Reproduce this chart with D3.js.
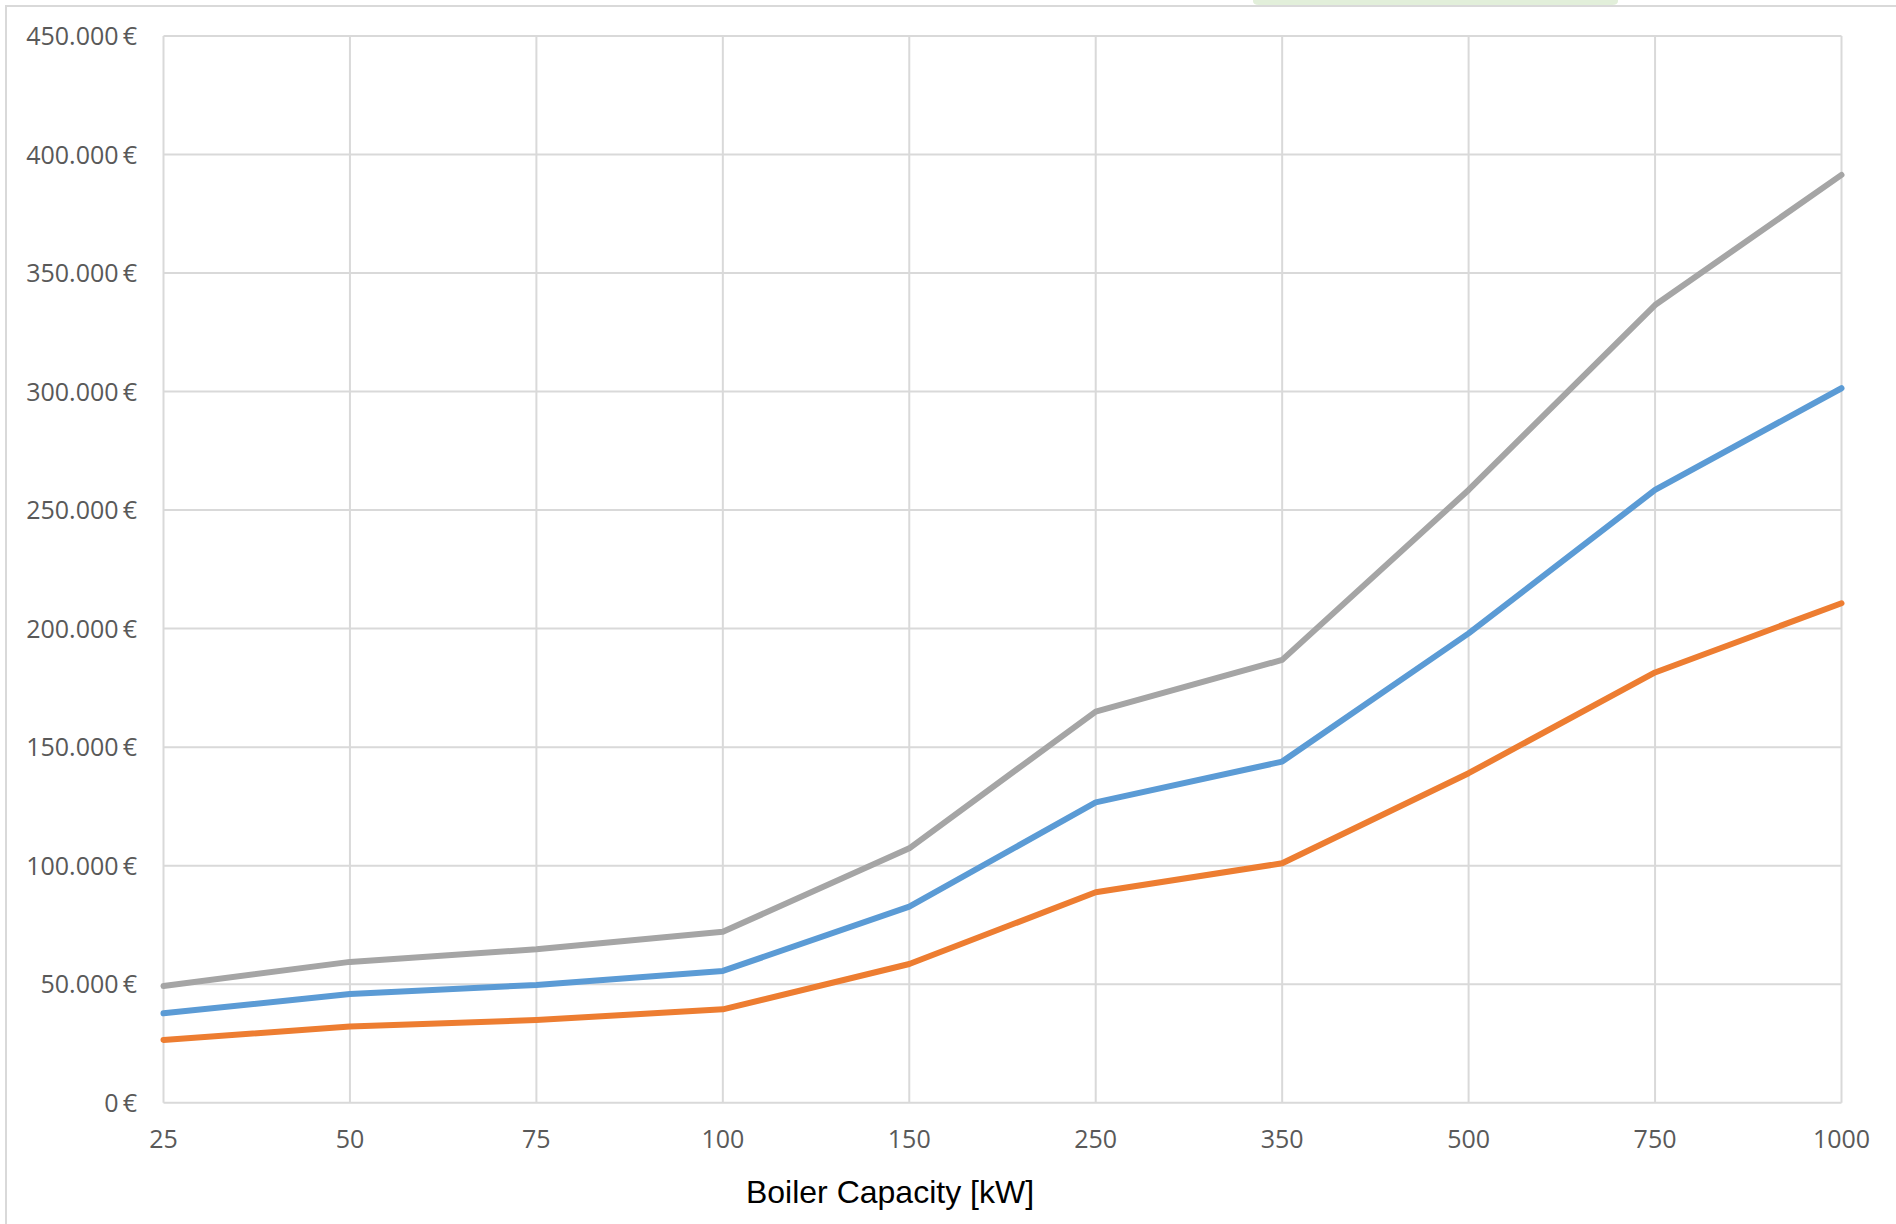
<!DOCTYPE html>
<html>
<head>
<meta charset="utf-8">
<script src="https://cdn.jsdelivr.net/npm/d3@7/dist/d3.min.js"></script>
<style>
  html, body { margin: 0; padding: 0; background: #ffffff; }
  svg { display: block; }
</style>
</head>
<body>
<svg id="chart" width="1896" height="1224"></svg>
<script>
// ---- data ----
const categories = ["25", "50", "75", "100", "150", "250", "350", "500", "750", "1000"];
const seriesGrey   = [49200, 59400, 64700, 72100, 107300, 165000, 186800, 258500, 336500, 391400];
const seriesBlue   = [37700, 45900, 49700, 55600, 82700, 126700, 143900, 198000, 258500, 301400];
const seriesOrange = [26500, 32100, 34900, 39400, 58500, 88800, 101000, 139000, 181500, 210700];
const yTicks = [0, 50000, 100000, 150000, 200000, 250000, 300000, 350000, 400000, 450000];
const xTitle = "Boiler Capacity [kW]";

const series = [
  { name: "grey", values: seriesGrey, color: "#a5a5a5" },
  { name: "blue", values: seriesBlue, color: "#5b9bd5" },
  { name: "orange", values: seriesOrange, color: "#ed7d31" }
];

// ---- layout ----
const plot = { left: 163.5, right: 1841.5, top: 36, bottom: 1102.7 };
const svg = d3.select("#chart");

// background decorations
svg.append("path")
  .attr("d", "M1253,0 L1618,0 L1618,1 Q1618,5 1612,5 L1259,5 Q1253,5 1253,1 Z")
  .attr("fill", "#e2efda");
svg.append("rect")
  .attr("x", 6).attr("y", 6).attr("width", 2000).attr("height", 2000)
  .attr("fill", "none").attr("stroke", "#d9d9d9").attr("stroke-width", 2);

const x = d3.scalePoint().domain(categories).range([plot.left, plot.right]);
const y = d3.scaleLinear().domain([0, 450000]).range([plot.bottom, plot.top]);

const fmt = v => {
  const s = d3.format(",")(v).replace(/,/g, ".");
  return s + "\u2009\u20AC";
};

// horizontal gridlines
svg.append("g")
  .selectAll("line").data(yTicks).join("line")
  .attr("x1", plot.left).attr("x2", plot.right)
  .attr("y1", d => y(d)).attr("y2", d => y(d))
  .attr("stroke", "#d9d9d9").attr("stroke-width", 2);

// vertical gridlines
svg.append("g")
  .selectAll("line").data(categories).join("line")
  .attr("x1", d => x(d)).attr("x2", d => x(d))
  .attr("y1", plot.top).attr("y2", plot.bottom)
  .attr("stroke", "#d9d9d9").attr("stroke-width", 2);

// y labels
svg.append("g")
  .selectAll("text").data(yTicks).join("text")
  .attr("x", 137).attr("y", d => y(d))
  .attr("dy", "0.36em")
  .attr("text-anchor", "end")
  .attr("font-family", "'Open Sans', sans-serif")
  .attr("font-size", 25)
  .attr("fill", "#595959")
  .text(fmt);

// x labels
svg.append("g")
  .selectAll("text").data(categories).join("text")
  .attr("x", d => x(d)).attr("y", 1148)
  .attr("text-anchor", "middle")
  .attr("font-family", "'Open Sans', sans-serif")
  .attr("font-size", 25)
  .attr("fill", "#595959")
  .text(d => d);

// lines
const line = d3.line()
  .x((d, i) => x(categories[i]))
  .y(d => y(d));

svg.append("g")
  .selectAll("path").data(series).join("path")
  .attr("d", d => line(d.values))
  .attr("fill", "none")
  .attr("stroke", d => d.color)
  .attr("stroke-width", 6)
  .attr("stroke-linejoin", "round")
  .attr("stroke-linecap", "round");

// x axis title
svg.append("text")
  .attr("x", 890).attr("y", 1203)
  .attr("text-anchor", "middle")
  .attr("font-family", "'Liberation Sans', Arial, sans-serif")
  .attr("font-size", 32)
  .attr("fill", "#000000")
  .text(xTitle);
</script>
</body>
</html>
